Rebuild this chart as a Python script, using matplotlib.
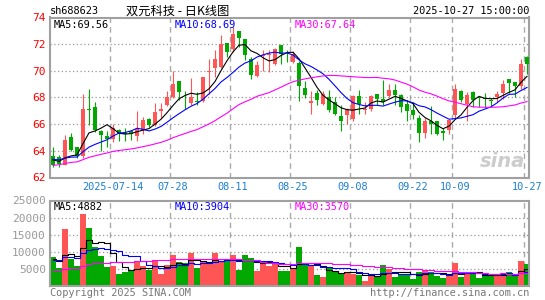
import numpy as np
import pandas as pd
from matplotlib import pyplot as plt

# daily K-line, 2025-06-30 .. 2025-10-27 (80 sessions)
open_ = [63.6, 63.55, 62.9, 65.05, 64.25, 63.6, 67.15, 67.3, 65.5, 65.1,
         64.9, 65.55, 65.35, 65.45, 65.1, 65.55, 66.4, 65.9, 66.95, 67.4,
         68.0, 69.25, 68.2, 67.6, 67.75, 67.75, 69.9, 70.2, 70.25, 72.05,
         71.65, 73.0, 72.4, 70.9, 69.6, 71.1, 71.2, 70.55, 71.95, 71.6,
         70.65, 70.55, 68.7, 67.6, 68.35, 67.5, 68.0, 67.65, 66.58, 66.7,
         66.4, 68.08, 67.1, 67.15, 68.25, 67.9, 68.08, 68.55, 68.2, 67.5,
         67.08, 66.45, 65.33, 66.2, 66.2, 65.5, 65.58, 66.7, 68.5, 67.5,
         68.4, 68.0, 67.95, 67.8, 68.0, 68.33, 69.4, 69.15, 68.83, 71.05]
high = [64.25, 63.7, 65.2, 65.33, 64.3, 68.28, 68.65, 67.65, 65.55, 65.45,
        66.0, 65.65, 65.7, 65.55, 67.0, 66.55, 66.45, 67.6, 67.6, 68.5,
        69.95, 69.25, 68.5, 69.45, 68.4, 69.55, 70.9, 71.6, 72.7, 72.05,
        73.3, 73.0, 72.4, 71.0, 70.75, 71.55, 71.6, 71.7, 71.95, 71.6,
        71.5, 70.7, 69.25, 68.5, 68.55, 68.5, 68.55, 68.0, 67.45, 67.2,
        68.2, 68.58, 67.65, 68.15, 68.25, 69.3, 69.05, 69.05, 68.25, 67.8,
        67.65, 66.65, 66.45, 67.35, 66.25, 65.7, 66.4, 69.0, 68.55, 68.4,
        68.45, 68.1, 68.35, 67.95, 68.45, 69.3, 69.4, 69.15, 70.9, 71.1]
low = [62.75, 62.8, 62.9, 63.95, 63.45, 63.45, 65.95, 65.4, 64.0, 64.25,
       64.65, 64.7, 64.7, 64.85, 64.7, 65.3, 65.8, 65.85, 66.45, 67.35,
       67.95, 67.8, 67.15, 67.4, 67.4, 67.65, 68.3, 69.55, 70.2, 71.0,
       71.4, 71.75, 70.85, 69.4, 69.5, 69.95, 69.9, 70.4, 70.5, 70.65,
       70.6, 67.75, 67.95, 66.8, 67.45, 67.45, 66.9, 66.7, 65.5, 66.0,
       66.2, 66.8, 66.8, 66.95, 67.45, 67.45, 68.0, 67.45, 66.9, 66.2,
       66.4, 64.63, 64.95, 65.25, 65.15, 64.85, 65.3, 66.45, 67.65, 66.2,
       67.25, 67.25, 67.25, 67.35, 67.65, 67.9, 68.35, 68.05, 68.65, 69.75]
close = [62.9, 63.05, 64.83, 64.1, 63.6, 67.15, 67.05, 65.55, 65.15, 64.9,
         65.7, 65.3, 65.25, 65.3, 65.6, 66.3, 65.9, 66.9, 67.15, 68.05,
         69.0, 68.4, 68.15, 68.0, 67.65, 69.5, 69.95, 70.9, 72.05, 71.4,
         72.8, 72.45, 71.15, 69.7, 70.45, 71.15, 71.25, 71.65, 71.25, 71.55,
         71.25, 68.83, 68.2, 67.7, 67.85, 68.25, 67.08, 66.78, 66.2, 67.12,
         68.08, 67.5, 67.15, 68.08, 67.9, 67.65, 68.6, 68.2, 67.32, 66.95,
         66.65, 65.33, 66.25, 66.05, 65.3, 65.35, 66.33, 68.65, 67.85, 68.15,
         67.83, 67.95, 67.9, 67.7, 68.25, 69.0, 69.08, 68.85, 70.5, 70.5]
volume = [8430, 5200, 16570, 7750, 5780, 20980, 16860, 11370, 8630, 5490,
          5780, 3630, 4220, 4410, 7350, 5980, 4800, 7350, 3630, 6180,
          8920, 7160, 6760, 9510, 5390, 7350, 6370, 9510, 7350, 7550,
          8920, 4800, 9120, 8330, 4510, 7350, 5780, 6960, 4510, 4310,
          5390, 11270, 6570, 5780, 3330, 2750, 5590, 4020, 3820, 3820,
          3430, 3240, 1570, 3630, 3040, 6270, 5100, 2750, 3430, 3430,
          2160, 4220, 4800, 4220, 3040, 2450, 2840, 6860, 2750, 4020,
          3820, 2450, 3240, 3240, 3240, 3240, 4220, 3240, 7450, 6570]

# sessions before the window, estimated so the MA lines start where the chart shows them
lead_close = [61.5, 62.0, 61.8, 62.3, 62.1, 61.9, 62.2, 61.7, 62.0, 62.1,
              63.2, 63.5, 63.6, 63.3, 63.4, 63.1, 63.5, 63.7, 63.4, 63.3,
              63.4, 63.6, 63.3, 63.5, 63.2, 63.6, 63.5, 63.4, 63.2]
lead_volume = [3600, 3200, 3900, 3400, 3700, 3300, 3500, 3800, 3400, 3600,
               2500, 2800, 2300, 2600, 2700, 2400, 2500, 2900, 2600, 2300,
               7000, 8200, 7400, 6900, 7800, 8100, 7600, 7300, 8300]

tick_pos = [10, 20, 30, 40, 50, 60, 67, 79]
tick_lab = ["2025-07-14", "07-28", "08-11", "08-25", "09-08", "09-22", "10-09", "10-27"]

ma_lab = ["MA5:69.56", "MA10:68.69", "MA30:67.64"]
vma_lab = ["MA5:4882", "MA10:3904", "MA30:3570"]

RED = "#ff5555"
GREEN = "#00a800"
MA_COL = ["black", "#0000ff", "#ff00ff"]
MONO = "DejaVu Sans Mono"

n = len(close)
x = np.arange(n)
o = np.array(open_)
c = np.array(close)
up = c >= o
col = np.where(up, RED, GREEN)

cs = pd.Series(lead_close + close)
vs = pd.Series(lead_volume + volume)
ma = [cs.rolling(k).mean().values[-n:] for k in (5, 10, 30)]
vma = [vs.rolling(k).mean().values[-n:] for k in (5, 10, 30)]

W, H = 545, 300
fig = plt.figure(figsize=(W / 100, H / 100), dpi=100)
fig.patch.set_facecolor("white")

def fx(px):
    return px / W

def fy(py):
    return 1 - py / H

ax = fig.add_axes([fx(50), fy(177.5), fx(529) - fx(50), fy(17.5) - fy(177.5)])
axv = fig.add_axes([fx(50), fy(286), fx(529) - fx(50), fy(200.5) - fy(286)])

for a in (ax, axv):
    a.set_xlim(-0.5, 79.33)
    for s in a.spines.values():
        s.set_color("#a0a0a0")
        s.set_linewidth(1.5)
    for p in tick_pos:
        a.axvline(p - 0.45, color="#aaaaaa", lw=1, ls=(0, (4, 3)), zorder=0)
    a.tick_params(length=0)

# price panel
ax.set_ylim(62, 74)
for lv in [64, 66, 68, 70, 72]:
    ax.axhline(lv, color="#999999", lw=0.9, ls=(0, (1, 2)), zorder=0)
ax.vlines(x, low, high, colors=col, lw=0.8, zorder=2)
body = np.maximum(np.abs(c - o), 0.04)
ax.bar(x, body, bottom=np.minimum(o, c), width=0.82, color=col, zorder=3)
for m, cl in zip(ma, MA_COL):
    ax.plot(x, m, color=cl, lw=0.8, zorder=4)
ax.set_yticks([62, 64, 66, 68, 70, 72, 74])
ax.set_yticklabels(["62", "64", "66", "68", "70", "72", "74"], color="red",
                   fontsize=8, family=MONO)
ax.tick_params(axis="y", pad=3)
ax.set_xticks(tick_pos)
ax.set_xticklabels(tick_lab, color="#1e7fd0", fontsize=7.4, family=MONO)
ax.tick_params(axis="x", pad=3)
for k, (t, cl) in enumerate(zip(ma_lab, MA_COL)):
    fig.text(fx([54, 175, 295][k]), fy(24.5), t, color=cl, fontsize=7.4,
             family=MONO, va="center")
ax.text(78.6, 63.2, "sina", color="#cccccc", fontsize=14, style="italic",
        fontweight="bold", ha="right", va="center", zorder=1)

# volume panel
axv.set_ylim(0, 25000)
for lv in [5000, 10000, 15000, 20000]:
    axv.axhline(lv, color="#999999", lw=0.9, ls=(0, (1, 2)), zorder=0)
axv.bar(x, volume, width=0.85, color=col, zorder=2)
for m, cl in zip(vma, MA_COL):
    axv.plot(x, m, color=cl, lw=0.8, drawstyle="steps-mid", zorder=3)
axv.set_yticks([5000, 10000, 15000, 20000, 25000])
axv.set_yticklabels(["5000", "10000", "15000", "20000", "25000"], color="#999999",
                    fontsize=8, family=MONO)
axv.tick_params(axis="y", pad=3)
axv.set_xticks([])
for k, (t, cl) in enumerate(zip(vma_lab, MA_COL)):
    fig.text(fx([54, 175, 295][k]), fy(207), t, color=cl, fontsize=7.4,
             family=MONO, va="center")

# header and footer
fig.text(fx(50), fy(11), "sh688623", fontsize=7.4, family=MONO, va="center")
fig.text(fx(178), fy(11), "双元科技 - 日K线图", fontsize=8.8,
         family=["Noto Sans CJK SC", "DejaVu Sans"], ha="center", va="center")
fig.text(fx(529), fy(11), "2025-10-27 15:00:00", fontsize=7.4, family=MONO,
         ha="right", va="center")
fig.text(fx(50), fy(293), "Copyright 2025 SINA.COM", fontsize=7.4, family=MONO,
         color="#777777", va="center")
fig.text(fx(529), fy(293), "http://finance.sina.com.cn", fontsize=7.4, family=MONO,
         color="#777777", ha="right", va="center")

fig.savefig("out.png", dpi=100)
